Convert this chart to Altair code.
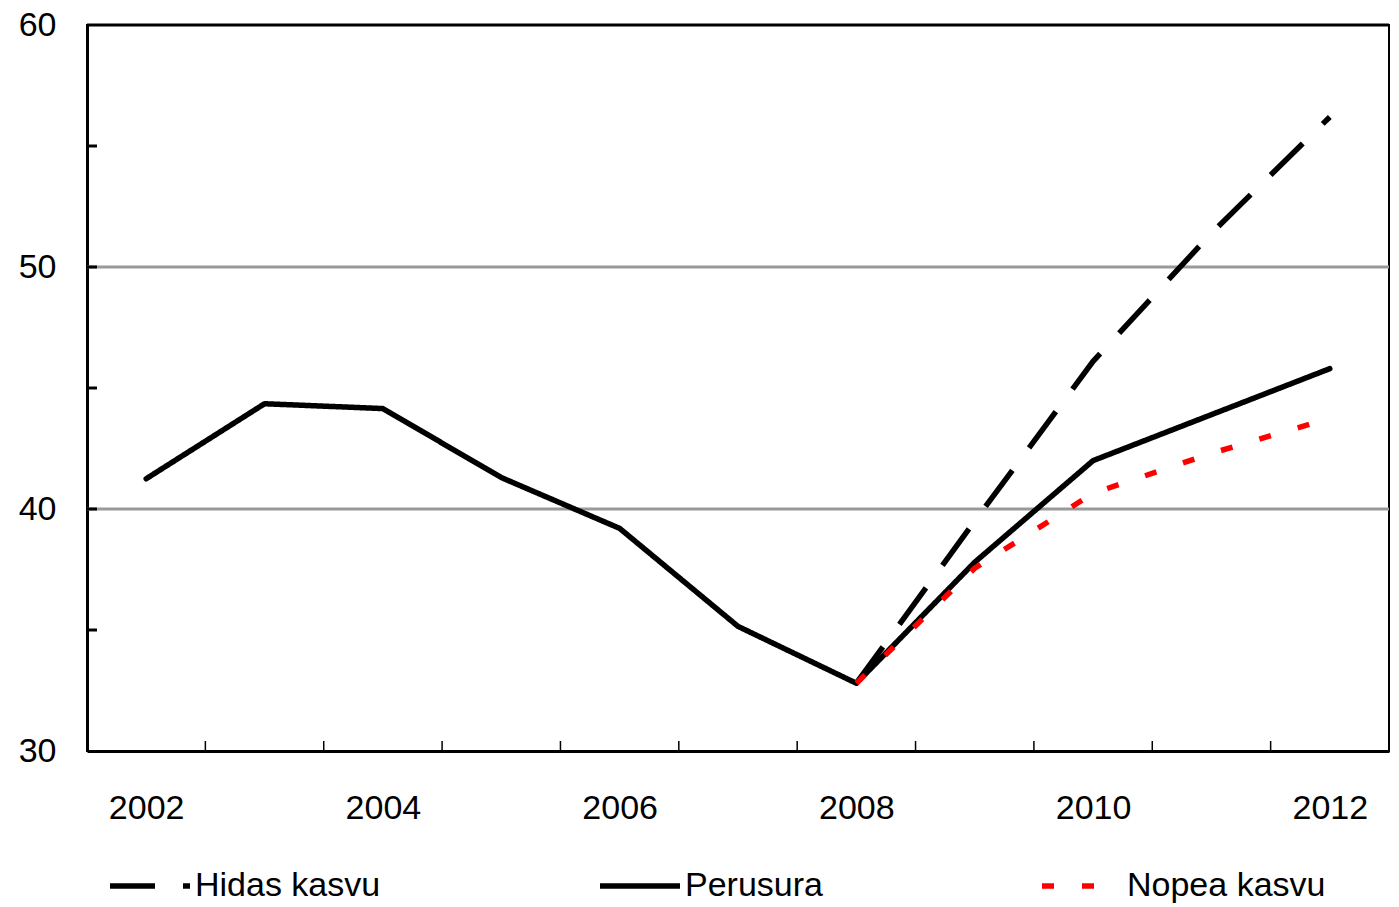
import altair as alt
import pandas as pd

# ---- data ----
years = [2002, 2003, 2004, 2005, 2006, 2007, 2008, 2009, 2010, 2011, 2012]
perusura = [41.25, 44.35, 44.15, 41.3, 39.2, 35.15, 32.8, 37.8, 42.0, 43.9, 45.8]
scen_years = [2008, 2009, 2010, 2011, 2012]
hidas = [32.8, 39.5, 46.1, 51.4, 56.2]
nopea = [32.8, 37.55, 40.65, 42.3, 43.75]
names = ["Hidas kasvu", "Perusura", "Nopea kasvu"]
y_labels = [30, 40, 50, 60]
y_minor = [35, 40, 45, 50, 55]
grid_vals = [40, 50]
x_labels = [2002, 2004, 2006, 2008, 2010, 2012]
x_bounds = [2002.5, 2003.5, 2004.5, 2005.5, 2006.5, 2007.5, 2008.5, 2009.5, 2010.5, 2011.5]

rows = []
for yr, v in zip(scen_years, hidas):
    rows.append({"series": names[0], "year": yr, "value": v})
for yr, v in zip(years, perusura):
    rows.append({"series": names[1], "year": yr, "value": v})
for yr, v in zip(scen_years, nopea):
    rows.append({"series": names[2], "year": yr, "value": v})
df = pd.DataFrame(rows)

W, H = 1302, 726
FONT = "Liberation Sans"
FS = 34

xscale = alt.Scale(domain=[2001.5, 2012.5], nice=False, zero=False)
yscale = alt.Scale(domain=[30, 60], nice=False, zero=False)
xaxis = alt.Axis(values=x_labels, format="d", title=None, ticks=False, tickSize=0,
                 labelPadding=40, labelFontSize=FS, labelFont=FONT, labelColor="black",
                 domainColor="black", domainWidth=3, grid=False, labelFlush=False,
                 labelOverlap=False)
yaxis = alt.Axis(values=y_labels, title=None, ticks=False, tickSize=0,
                 labelPadding=31, labelFontSize=FS, labelFont=FONT, labelColor="black",
                 domainColor="black", domainWidth=3, grid=False)

X = alt.X("year:Q", scale=xscale, axis=xaxis, title=None)
Y = alt.Y("value:Q", scale=yscale, axis=yaxis, title=None)

grid = alt.Chart(pd.DataFrame({"value": grid_vals})).mark_rule(
    color="#999999", strokeWidth=3).encode(y=Y)

yticks = alt.Chart(pd.DataFrame({"value": y_minor})).mark_rule(
    color="black", strokeWidth=3).encode(y=Y, x=alt.value(0), x2=alt.value(10))

xticks = alt.Chart(pd.DataFrame({"year": x_bounds})).mark_rule(
    color="black", strokeWidth=1.5).encode(x=X, y=alt.value(H), y2=alt.value(H - 10))

topline = alt.Chart(pd.DataFrame({"a": [0]})).mark_rule(
    color="black", strokeWidth=3).encode(y=alt.value(0))

legend = alt.Legend(title=None, orient="none", legendX=20, legendY=818,
                    direction="horizontal", columns=3, columnPadding=208,
                    symbolType="stroke", symbolSize=6400, symbolStrokeWidth=5.5,
                    labelFontSize=FS, labelFont=FONT, labelColor="black",
                    labelOffset=2, labelLimit=500)

base = alt.Chart(df).encode(
    x=X,
    y=Y,
    color=alt.Color("series:N", scale=alt.Scale(domain=names, range=["black", "black", "#ff0000"]),
                    legend=legend),
    strokeDash=alt.StrokeDash("series:N",
                              scale=alt.Scale(domain=names, range=[[45, 28], [1, 0], [12, 28]]),
                              legend=legend),
    strokeWidth=alt.StrokeWidth("series:N", scale=alt.Scale(domain=names, range=[5.5, 5.5, 7]),
                                legend=None),
)

l_hidas = base.transform_filter(alt.datum.series == names[0]).mark_line(strokeCap="butt")
l_peru = base.transform_filter(alt.datum.series == names[1]).mark_line(strokeCap="round",
                                                                        strokeJoin="round")
l_nopea = base.transform_filter(alt.datum.series == names[2]).mark_line(strokeCap="butt")

chart = alt.layer(grid, yticks, xticks, topline, l_hidas, l_peru, l_nopea).properties(
    width=W, height=H,
    autosize="none",
    padding={"left": 79, "top": 17, "right": 2, "bottom": 152},
    background="white",
).configure_view(stroke="black", strokeWidth=2)

chart.save("out.html", embed_options={"renderer": "svg", "actions": False})
